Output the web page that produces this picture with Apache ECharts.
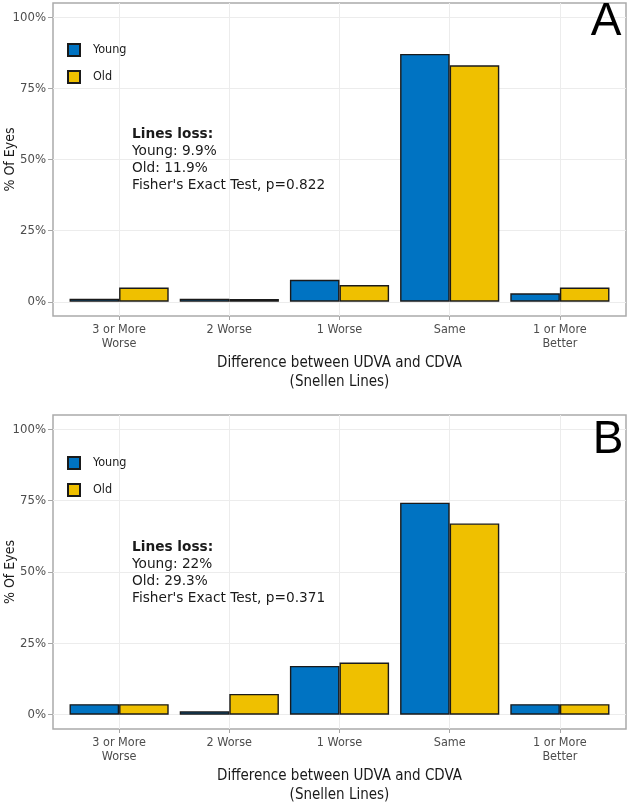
<!DOCTYPE html>
<html>
<head>
<meta charset="utf-8">
<script src="https://cdn.jsdelivr.net/npm/echarts@6/dist/echarts.min.js"></script>
<style>
html,body{margin:0;padding:0;background:#fff;}
#chart{width:629px;height:802px;}
</style>
</head>
<body>
<div id="chart"></div>
<script>
const categories = ['3 or More\nWorse', '2 Worse', '1 Worse', 'Same', '1 or More\nBetter'];
const catPositions = [0, 1, 2, 3, 4];
const youngA = [1.1, 1.1, 7.7, 87.1, 3.0];
const oldA = [5.0, 1.0, 5.9, 83.1, 5.0];
const youngB = [3.7, 1.2, 17.1, 74.3, 3.7];
const oldB = [3.7, 7.3, 18.3, 67.0, 3.7];
const yTicks = [0, 25, 50, 75, 100];
const annotA = ['Lines loss:', 'Young: 9.9%', 'Old: 11.9%', "Fisher's Exact Test, p=0.822"];
const annotB = ['Lines loss:', 'Young: 22%', 'Old: 29.3%', "Fisher's Exact Test, p=0.371"];

const BLUE = '#0073C2', YELLOW = '#EFC000';
const FONT = 'DejaVu Sans';
const CFONT = 'DejaVu Sans Condensed';
const chart = echarts.init(document.getElementById('chart'));

const grids = [
  {left: 53, top: 3, width: 573, height: 313},
  {left: 53, top: 415, width: 573, height: 314}
];

function xAxis(i) {
  return {
    type: 'value', gridIndex: i, min: -0.6, max: 4.6,
    name: 'Difference between UDVA and CDVA\n(Snellen Lines)',
    nameLocation: 'middle', nameGap: 38, nameMoveOverlap: false,
    nameTextStyle: {fontFamily: CFONT, fontSize: 15, color: '#1a1a1a', lineHeight: 19, verticalAlign: 'top'},
    axisLine: {show: false, onZero: false},
    axisTick: {show: true, length: 4, customValues: catPositions, lineStyle: {color: '#a6a6a6', width: 1}},
    axisLabel: {customValues: catPositions, margin: 7, fontFamily: CFONT, fontSize: 12.5, color: '#4d4d4d', lineHeight: 14,
      formatter: v => categories[Math.round(v)]},
    splitLine: {show: true, lineStyle: {color: '#ececec', width: 1}}
  };
}
function yAxis(i) {
  return {
    type: 'value', gridIndex: i, min: -5, max: 105,
    name: '% Of Eyes', nameLocation: 'middle', nameGap: 36, nameMoveOverlap: false,
    nameTextStyle: {fontFamily: CFONT, fontSize: 14, color: '#1a1a1a'},
    axisLine: {show: false, onZero: false},
    axisTick: {show: true, length: 5, customValues: yTicks, lineStyle: {color: '#a6a6a6', width: 1}},
    axisLabel: {customValues: yTicks, margin: 7, fontFamily: CFONT, fontSize: 13, color: '#4d4d4d',
      formatter: v => v + '%'},
    splitLine: {show: true, lineStyle: {color: '#ececec', width: 1}}
  };
}
function barSeries(name, vals, color, i) {
  return {
    type: 'bar', name: name, xAxisIndex: i, yAxisIndex: i,
    barWidth: '45%', barGap: '0%',
    data: vals.map((v, k) => [catPositions[k], v]),
    itemStyle: {color: color, borderColor: '#1a1a1a', borderWidth: 1.4},
    emphasis: {disabled: true}
  };
}
function legend(top) {
  return {
    data: ['Young', 'Old'], orient: 'vertical', left: 62, top: top,
    itemWidth: 12, itemHeight: 12, itemGap: 13, icon: 'rect',
    textStyle: {fontFamily: CFONT, fontSize: 12.5, color: '#1a1a1a', padding: [0, 0, 0, 8]}
  };
}
function annot(lines, y) {
  return {
    type: 'text', left: 132, top: y, z: 100,
    style: {
      text: '{b|' + lines[0] + '}\n' + lines.slice(1).join('\n'),
      fontFamily: FONT, fontSize: 13.7, lineHeight: 17, fill: '#1a1a1a',
      rich: {b: {fontWeight: 'bold', fontFamily: FONT, fontSize: 13.7, lineHeight: 17}}
    }
  };
}
function letter(t, x, y) {
  return {type: 'text', x: x, y: y, z: 100,
    style: {text: t, fontFamily: 'Liberation Sans', fontSize: 46, fill: '#000', textAlign: 'center', textVerticalAlign: 'middle'}};
}

chart.setOption({
  animation: false,
  backgroundColor: '#fff',
  grid: grids.map(g => Object.assign({show: true, borderColor: '#aaaaaa', borderWidth: 1.5, backgroundColor: 'transparent', containLabel: false, outerBoundsMode: 'none'}, g)),
  xAxis: [xAxis(0), xAxis(1)],
  yAxis: [yAxis(0), yAxis(1)],
  legend: [legend(38), legend(451)],
  series: [
    barSeries('Young', youngA, BLUE, 0),
    barSeries('Old', oldA, YELLOW, 0),
    barSeries('Young', youngB, BLUE, 1),
    barSeries('Old', oldB, YELLOW, 1)
  ],
  graphic: [
    annot(annotA, 126),
    annot(annotB, 539),
    letter('A', 606, 22),
    letter('B', 608, 440)
  ]
});
</script>
</body>
</html>
